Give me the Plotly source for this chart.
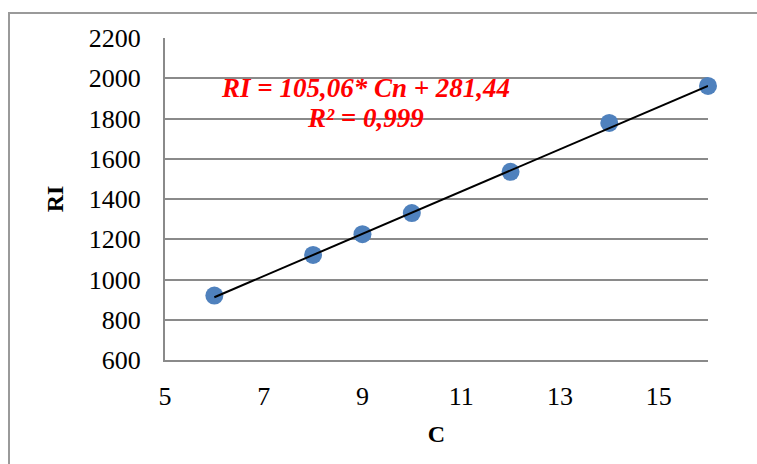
import plotly.graph_objects as go

# Data
carbon_number = [6, 8, 9, 10, 12, 14, 16]
retention_index = [920, 1122, 1225, 1330, 1535, 1778, 1962]

# Trend line coefficients (from the chart's equation label)
slope = 105.06
intercept = 281.44
trend_x = [6, 16]

x_ticks = [5, 7, 9, 11, 13, 15]
y_ticks = [600, 800, 1000, 1200, 1400, 1600, 1800, 2000, 2200]

trend_y = [slope * x + intercept for x in trend_x]

grid_color = "#8a8a8a"
tick_font = dict(family="Liberation Serif, Times New Roman, serif", size=26, color="#000000")

fig = go.Figure()
fig.add_trace(go.Scatter(
    x=carbon_number, y=retention_index, mode="markers",
    marker=dict(size=18, color="#4F81BD", line=dict(width=0)),
    showlegend=False, cliponaxis=False,
))
fig.add_trace(go.Scatter(
    x=trend_x, y=trend_y, mode="lines",
    line=dict(color="#000000", width=2),
    showlegend=False, cliponaxis=False,
))

fig.update_layout(
    width=757, height=464,
    margin=dict(l=165, r=49, t=38, b=104),
    paper_bgcolor="white", plot_bgcolor="white",
    xaxis=dict(
        range=[5, 16], tickvals=x_ticks, ticktext=[str(v) for v in x_ticks],
        showgrid=False, zeroline=False,
        showline=True, linecolor=grid_color, linewidth=2,
        ticks="outside", ticklen=12, tickcolor="rgba(0,0,0,0)",
        tickfont=tick_font,
        title=dict(text="<b>C</b>", font=dict(family="Liberation Serif, serif", size=24, color="#000000"), standoff=15),
    ),
    yaxis=dict(
        range=[600, 2200], tickvals=y_ticks, ticktext=[str(v) for v in y_ticks],
        showgrid=True, gridcolor=grid_color, gridwidth=2, zeroline=False,
        showline=True, linecolor=grid_color, linewidth=2,
        ticks="outside", ticklen=17, tickcolor="rgba(0,0,0,0)",
        tickfont=tick_font,
        title=dict(text="<b>RI</b>", font=dict(family="Liberation Serif, serif", size=24, color="#000000"), standoff=18),
    ),
    shapes=[dict(
        type="rect", xref="paper", yref="paper",
        x0=(9 - 165) / 543, x1=1.3, y0=-0.6, y1=(360 - 13) / 322,
        line=dict(color="#9a9a9a", width=2), fillcolor="rgba(0,0,0,0)", layer="below",
    )],
    annotations=[
        dict(x=(365 - 165) / 49.36 + 5, y=1, xref="x", yref="paper", xanchor="center", yanchor="middle",
             text="<b><i>RI = 105,06* Cn + 281,44</i></b>", showarrow=False, yshift=-(88 - 38),
             font=dict(family="Liberation Serif, serif", size=27, color="#FF0000")),
        dict(x=(365 - 165) / 49.36 + 5, y=1, xref="x", yref="paper", xanchor="center", yanchor="middle",
             text="<b><i>R² = 0,999</i></b>", showarrow=False, yshift=-(118 - 38),
             font=dict(family="Liberation Serif, serif", size=27, color="#FF0000")),
    ],
)

fig.write_html("out.html")
